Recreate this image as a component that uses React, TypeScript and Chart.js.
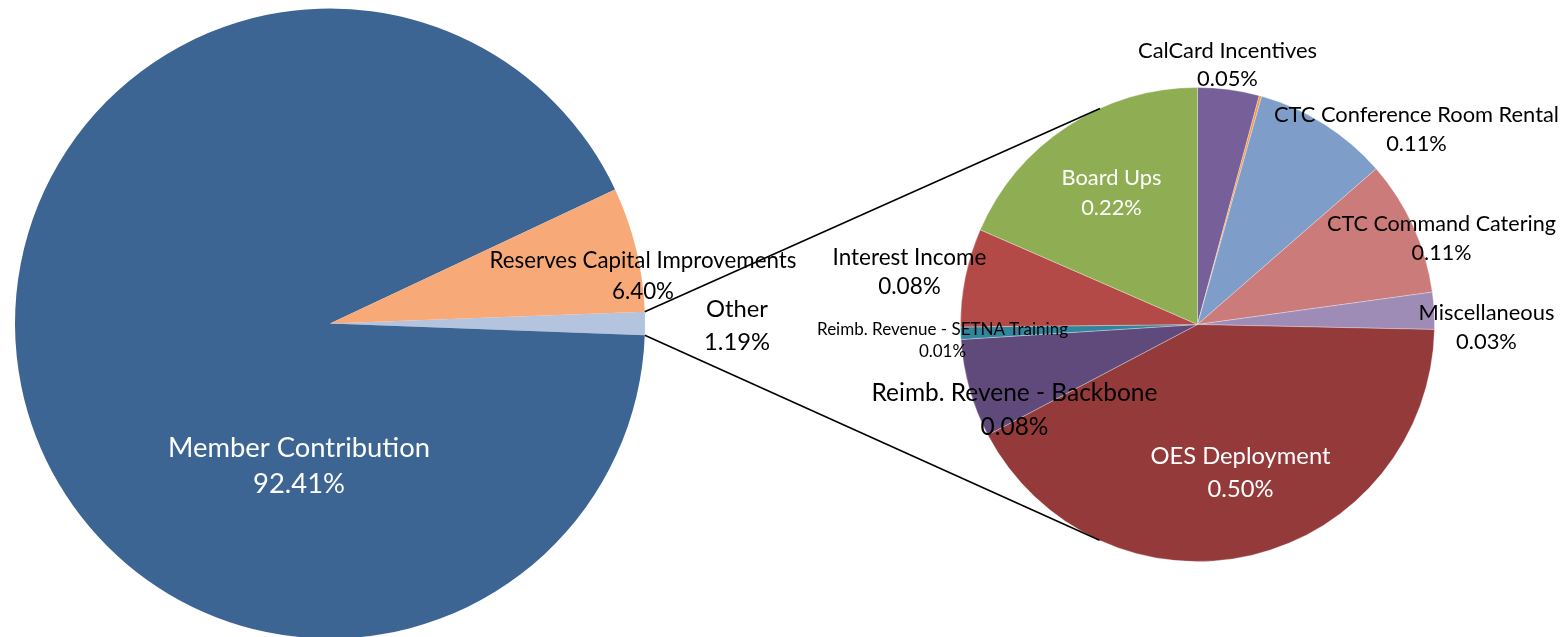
import React, { useEffect, useRef } from "react";
import { Chart, registerables } from "chart.js";
Chart.register(...registerables);

// ---------- DATA ----------
const mainCategories = ["Other", "Member Contribution", "Reserves Capital Improvements"];
const mainValues = [1.19, 92.41, 6.4];

const otherCategories = [
  "CalCard Incentives",
  "",
  "CTC Conference Room Rental",
  "CTC Command Catering",
  "Miscellaneous",
  "OES Deployment",
  "Reimb. Revene - Backbone",
  "Reimb. Revenue - SETNA Training",
  "Interest Income",
  "Board Ups",
];
const otherValues = [0.05, 0.002, 0.11, 0.11, 0.03, 0.5, 0.08, 0.01, 0.08, 0.22];

// ---------- STYLE ----------
const mainColors = ["#B4C4DF", "#3D6594", "#F8A978"];
const otherColors = [
  "#775F99",
  "#F79646",
  "#7F9DC9",
  "#CB7B79",
  "#9E8CB7",
  "#953A3A",
  "#604A7B",
  "#31859C",
  "#B34A47",
  "#8FAE54",
];

type LabelSpec = { dx: number; dy: number; w: number; gap: number; color: string } | null;

const TEXT_SHIFT = 2.5;
const mainLabelSpecs: LabelSpec[] = [
  { dx: 407, dy: 0, w: 62, gap: 33, color: "#000" },
  { dx: -31, dy: 140, w: 262, gap: 36, color: "#fff" },
  { dx: 313, dy: -50, w: 307, gap: 31, color: "#000" },
];
const otherLabelSpecs: LabelSpec[] = [
  { dx: 30, dy: -262, w: 179, gap: 28, color: "#000" },
  null,
  { dx: 219, dy: -198, w: 285, gap: 29, color: "#000" },
  { dx: 244, dy: -88, w: 229, gap: 29, color: "#000" },
  { dx: 289, dy: 0, w: 136, gap: 29, color: "#000" },
  { dx: 43, dy: 146, w: 180, gap: 33, color: "#fff" },
  { dx: -183, dy: 83, w: 286, gap: 34, color: "#000" },
  { dx: -255, dy: 14, w: 251, gap: 22, color: "#000" },
  { dx: -288, dy: -55, w: 154, gap: 29, color: "#000" },
  { dx: -86, dy: -134, w: 100, gap: 30, color: "#fff" },
];

const FONT = "Lato, 'Open Sans', sans-serif";
const W = 1564;
const H = 637;
// connector end points on the secondary pie, clockwise degrees from 12 o'clock
const CONNECT_TOP_DEG = 335.7;
const CONNECT_BOTTOM_DEG = 204.4;

function makeLabelPlugin(categories: string[], values: number[], specs: LabelSpec[]) {
  return {
    id: "sliceLabels",
    afterDraw(chart: any) {
      const ctx = chart.ctx;
      const meta = chart.getDatasetMeta(0);
      ctx.save();
      ctx.textAlign = "center";
      ctx.textBaseline = "middle";
      specs.forEach((spec, i) => {
        if (!spec) return;
        const arc = meta.data[i];
        const cx = arc.x + spec.dx;
        const cy = arc.y + spec.dy + TEXT_SHIFT;
        const line1 = categories[i];
        const line2 = values[i].toFixed(2) + "%";
        ctx.font = `20px ${FONT}`;
        const mw = ctx.measureText(line1).width;
        const size = (20 * spec.w) / mw;
        ctx.font = `${size.toFixed(2)}px ${FONT}`;
        ctx.fillStyle = spec.color;
        ctx.fillText(line1, cx, cy - spec.gap / 2);
        ctx.fillText(line2, cx, cy + spec.gap / 2);
      });
      ctx.restore();
    },
  };
}

export default function App() {
  const leftRef = useRef<HTMLCanvasElement>(null);
  const rightRef = useRef<HTMLCanvasElement>(null);

  useEffect(() => {
    document.body.style.margin = "0";
    document.body.style.overflow = "hidden";
    const mainTotal = mainValues.reduce((a, b) => a + b, 0);
    const otherSpan = (mainValues[0] / mainTotal) * 360;
    const left = new Chart(leftRef.current!, {
      type: "pie",
      data: {
        labels: mainCategories,
        datasets: [
          {
            data: mainValues,
            backgroundColor: mainColors,
            borderWidth: 0,
            hoverOffset: 0,
          },
        ],
      },
      options: {
        responsive: false,
        animation: false,
        events: [],
        radius: 315,
        rotation: 90 - otherSpan / 2,
        layout: { padding: { left: 15, right: W - 645, top: 10, bottom: -3 } },
        plugins: { legend: { display: false }, tooltip: { enabled: false } },
      },
      plugins: [makeLabelPlugin(mainCategories, mainValues, mainLabelSpecs)],
    });

    const connectorPlugin = {
      id: "connectors",
      afterDraw(chart: any) {
        const ctx = chart.ctx;
        const la = left.getDatasetMeta(0).data[0] as any;
        const ra = chart.getDatasetMeta(0).data[0] as any;
        const R = la.outerRadius;
        const p1 = [la.x + R * Math.cos(la.startAngle), la.y + R * Math.sin(la.startAngle)];
        const p2 = [la.x + R * Math.cos(la.endAngle), la.y + R * Math.sin(la.endAngle)];
        const r = ra.outerRadius;
        const a1 = ((CONNECT_TOP_DEG - 90) * Math.PI) / 180;
        const a2 = ((CONNECT_BOTTOM_DEG - 90) * Math.PI) / 180;
        const q1 = [ra.x + r * Math.cos(a1), ra.y + r * Math.sin(a1)];
        const q2 = [ra.x + r * Math.cos(a2), ra.y + r * Math.sin(a2)];
        ctx.save();
        ctx.strokeStyle = "#000";
        ctx.lineWidth = 1.6;
        ctx.beginPath();
        ctx.moveTo(p1[0], p1[1]);
        ctx.lineTo(q1[0], q1[1]);
        ctx.moveTo(p2[0], p2[1]);
        ctx.lineTo(q2[0], q2[1]);
        ctx.stroke();
        ctx.restore();
      },
    };

    const right = new Chart(rightRef.current!, {
      type: "pie",
      data: {
        labels: otherCategories,
        datasets: [
          {
            data: otherValues,
            backgroundColor: otherColors,
            borderColor: "rgba(255,255,255,0.6)",
            borderWidth: 0.5,
            hoverOffset: 0,
          },
        ],
      },
      options: {
        responsive: false,
        animation: false,
        events: [],
        radius: 237,
        rotation: 0,
        layout: { padding: { left: 961, right: W - 1434, top: 88, bottom: H - 561 } },
        plugins: { legend: { display: false }, tooltip: { enabled: false } },
      },
      plugins: [makeLabelPlugin(otherCategories, otherValues, otherLabelSpecs), connectorPlugin],
    });

    return () => {
      right.destroy();
      left.destroy();
    };
  }, []);

  return (
    <div style={{ position: "relative", width: W, height: H, overflow: "hidden", background: "#fff" }}>
      <canvas ref={leftRef} width={W} height={H} style={{ position: "absolute", left: 0, top: 0 }} />
      <canvas ref={rightRef} width={W} height={H} style={{ position: "absolute", left: 0, top: 0 }} />
    </div>
  );
}
